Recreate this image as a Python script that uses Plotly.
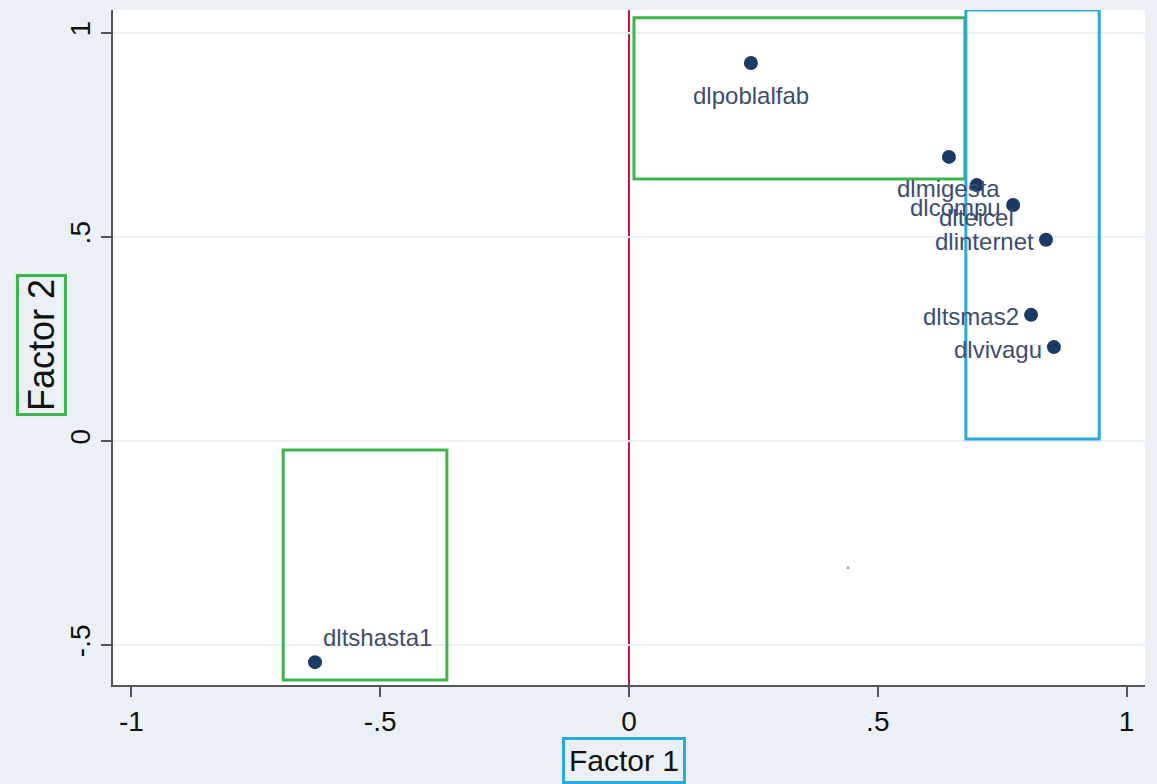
import plotly.graph_objects as go

# Data (factor loadings)
variables = ["dlpoblalfab", "dlmigesta", "dlteicel", "dlcompu", "dlinternet",
             "dltsmas2", "dlvivagu", "dltshasta1"]
factor1 = [0.245, 0.643, 0.699, 0.772, 0.838, 0.808, 0.854, -0.631]
factor2 = [0.926, 0.696, 0.627, 0.578, 0.493, 0.309, 0.230, -0.542]
# label placement: b = below, l = left, tr = upper right
label_pos = ["b", "b", "b", "l", "l", "l", "l", "tr"]

stray_x = [0.44]
stray_y = [-0.311]

tick_vals = [-1, -0.5, 0, 0.5, 1]
tick_text = ["-1", "-.5", "0", ".5", "1"]

# highlight boxes
box_x0 = [0.010, 0.677, -0.695]
box_x1 = [0.675, 0.945, -0.366]
box_y0 = [0.642, 0.005, -0.586]
box_y1 = [1.037, 1.056, -0.022]
box_col = ["#3cb54e", "#2aa9e0", "#3cb54e"]

X_RANGE = [-1.037, 1.037]
Y_RANGE = [-0.598, 1.056]

FONT = "Liberation Sans, Arial, sans-serif"
LABEL_COL = "#3d4d6e"

fig = go.Figure()

fig.add_trace(go.Scatter(
    x=factor1, y=factor2, mode="markers",
    marker=dict(size=14, color="#1a3a66"),
    showlegend=False, hoverinfo="skip"))

fig.add_trace(go.Scatter(
    x=stray_x, y=stray_y, mode="markers",
    marker=dict(size=3, color="#9aa0a6"),
    showlegend=False, hoverinfo="skip"))

shapes = []
shapes.append(dict(type="line", xref="x", yref="paper", x0=0, x1=0, y0=0, y1=1,
                   line=dict(color="#c8143c", width=2), layer="below"))
shapes.append(dict(type="line", xref="paper", yref="y", x0=0, x1=1, y0=0, y1=0,
                   line=dict(color="#c8143c", width=2), layer="below"))
for x0, x1, y0, y1, c in zip(box_x0, box_x1, box_y0, box_y1, box_col):
    shapes.append(dict(type="rect", xref="x", yref="y", x0=x0, x1=x1, y0=y0, y1=y1,
                       line=dict(color=c, width=3), fillcolor="rgba(0,0,0,0)"))

annotations = []
for name, x, y, p in zip(variables, factor1, factor2, label_pos):
    a = dict(text=name, x=x, y=y, xref="x", yref="y", showarrow=False,
             font=dict(family=FONT, size=24, color=LABEL_COL), yanchor="middle")
    if p == "b":
        a.update(xanchor="center", yshift=-32)
    elif p == "l":
        a.update(xanchor="right", xshift=-10, yshift=-2)
    else:
        a.update(xanchor="left", xshift=6, yshift=25)
    annotations.append(a)

annotations += [
    dict(text="Factor 1", xref="x", yref="paper", x=-0.01, y=0, yshift=-75,
         showarrow=False, xanchor="center", yanchor="middle",
         font=dict(family=FONT, size=30, color="#111111"),
         bordercolor="#2aa9e0", borderwidth=3, borderpad=4, bgcolor="#eaf0f3"),
    dict(text="Factor 2", xref="paper", yref="y", x=0, xshift=-72, y=0.235,
         showarrow=False, xanchor="center", yanchor="middle", textangle=-90,
         font=dict(family=FONT, size=36, color="#111111"),
         bordercolor="#3cb54e", borderwidth=3, borderpad=2, bgcolor="#eaf0f3"),
]

fig.update_layout(
    width=1157, height=784,
    margin=dict(l=113, r=12, t=10, b=99, autoexpand=False),
    paper_bgcolor="#eaf0f3", plot_bgcolor="#ffffff",
    shapes=shapes, annotations=annotations,
    font=dict(family=FONT, color="#111111"),
)

fig.update_xaxes(range=X_RANGE, tickvals=tick_vals, ticktext=tick_text,
                 automargin=False,
                 showgrid=False, zeroline=False, showline=True,
                 linecolor="#555555", linewidth=2, ticks="outside", ticklen=10,
                 tickcolor="#555555", tickwidth=2,
                 tickfont=dict(family=FONT, size=28, color="#111111"))
fig.update_yaxes(range=Y_RANGE, tickvals=tick_vals, ticktext=tick_text,
                 tickangle=-90, automargin=False,
                 showgrid=True, gridcolor="#edf1f3", gridwidth=2, zeroline=False,
                 showline=True, linecolor="#555555", linewidth=2,
                 ticks="outside", ticklen=10, tickcolor="#555555", tickwidth=2,
                 tickfont=dict(family=FONT, size=28, color="#111111"))

fig.write_html("out.html",
               config={"displayModeBar": False},
               post_script="document.body.style.margin='0';"
                           "document.body.style.background='#eaf0f3';")
